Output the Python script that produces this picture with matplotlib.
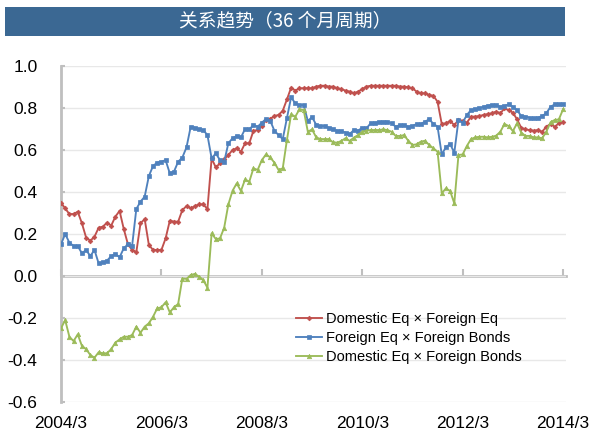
import matplotlib
matplotlib.use("Agg")
import matplotlib.pyplot as plt
from matplotlib.patches import Rectangle

# ---------------- data ----------------
title = "关系趋势（36 个月周期）"
series_names = ["Domestic Eq × Foreign Eq",
                "Foreign Eq × Foreign Bonds",
                "Domestic Eq × Foreign Bonds"]
tick_labels = ["2004/3", "2006/3", "2008/3", "2010/3", "2012/3", "2014/3"]
tick_months = [0, 24, 48, 72, 96, 120]   # months since 2004/3
y_ticks = [-0.6, -0.4, -0.2, 0.0, 0.2, 0.4, 0.6, 0.8, 1.0]

dom_eq_for_eq = [
    0.349, 0.322, 0.295, 0.295, 0.306, 0.251, 0.183, 0.168, 0.187, 0.230,
    0.235, 0.254, 0.240, 0.283, 0.310, 0.224, 0.151, 0.124, 0.113, 0.251,
    0.271, 0.148, 0.124, 0.124, 0.124, 0.179, 0.263, 0.259, 0.259, 0.314,
    0.333, 0.322, 0.333, 0.341, 0.341, 0.319, 0.560, 0.517, 0.537, 0.556,
    0.576, 0.600, 0.608, 0.592, 0.632, 0.632, 0.692, 0.695, 0.714, 0.743,
    0.748, 0.762, 0.767, 0.787, 0.841, 0.897, 0.883, 0.894, 0.894, 0.894,
    0.894, 0.902, 0.906, 0.906, 0.902, 0.902, 0.894, 0.890, 0.883, 0.878,
    0.870, 0.878, 0.890, 0.902, 0.906, 0.906, 0.906, 0.906, 0.906, 0.906,
    0.906, 0.902, 0.902, 0.898, 0.894, 0.878, 0.870, 0.870, 0.862, 0.858,
    0.830, 0.724, 0.727, 0.738, 0.719, 0.743, 0.740, 0.730, 0.759, 0.759,
    0.762, 0.767, 0.771, 0.775, 0.783, 0.775, 0.798, 0.790, 0.778, 0.746,
    0.706, 0.698, 0.695, 0.692, 0.695, 0.687, 0.711, 0.724, 0.711, 0.727,
    0.735]

for_eq_for_bonds = [
    0.151, 0.200, 0.159, 0.143, 0.143, 0.108, 0.124, 0.095, 0.124, 0.060,
    0.065, 0.073, 0.095, 0.105, 0.089, 0.132, 0.151, 0.144, 0.319, 0.354,
    0.378, 0.476, 0.524, 0.540, 0.544, 0.552, 0.489, 0.497, 0.544, 0.564,
    0.613, 0.711, 0.706, 0.698, 0.695, 0.671, 0.560, 0.584, 0.552, 0.544,
    0.632, 0.656, 0.667, 0.660, 0.700, 0.698, 0.719, 0.711, 0.730, 0.748,
    0.740, 0.692, 0.671, 0.652, 0.752, 0.851, 0.822, 0.814, 0.814, 0.738,
    0.757, 0.720, 0.714, 0.714, 0.706, 0.700, 0.692, 0.690, 0.683, 0.676,
    0.695, 0.692, 0.706, 0.703, 0.727, 0.730, 0.732, 0.735, 0.735, 0.727,
    0.711, 0.719, 0.719, 0.711, 0.714, 0.724, 0.724, 0.735, 0.746, 0.725,
    0.711, 0.579, 0.613, 0.629, 0.587, 0.743, 0.730, 0.767, 0.790, 0.795,
    0.798, 0.806, 0.811, 0.814, 0.814, 0.806, 0.810, 0.817, 0.806, 0.790,
    0.762, 0.759, 0.754, 0.751, 0.754, 0.762, 0.775, 0.806, 0.817, 0.819,
    0.819]

dom_eq_for_bonds = [
    -0.249, -0.210, -0.289, -0.310, -0.278, -0.333, -0.348, -0.376, -0.389, -0.363,
    -0.368, -0.368, -0.348, -0.317, -0.302, -0.289, -0.289, -0.281, -0.241, -0.270,
    -0.241, -0.225, -0.194, -0.154, -0.149, -0.125, -0.173, -0.149, -0.133, -0.012,
    -0.014, 0.005, 0.010, -0.003, -0.019, -0.056, 0.203, 0.176, 0.179, 0.230,
    0.341, 0.406, 0.441, 0.405, 0.460, 0.449, 0.513, 0.505, 0.552, 0.579,
    0.565, 0.540, 0.505, 0.513, 0.648, 0.770, 0.759, 0.794, 0.790, 0.687,
    0.698, 0.660, 0.652, 0.652, 0.652, 0.637, 0.635, 0.643, 0.656, 0.643,
    0.659, 0.671, 0.687, 0.692, 0.695, 0.695, 0.695, 0.698, 0.695, 0.687,
    0.667, 0.667, 0.671, 0.644, 0.624, 0.627, 0.640, 0.644, 0.624, 0.608,
    0.592, 0.394, 0.417, 0.405, 0.346, 0.576, 0.579, 0.619, 0.652, 0.660,
    0.663, 0.663, 0.660, 0.663, 0.668, 0.687, 0.724, 0.714, 0.690, 0.727,
    0.683, 0.667, 0.667, 0.660, 0.660, 0.656, 0.687, 0.732, 0.743, 0.746,
    0.794]

months = list(range(len(dom_eq_for_eq)))

# ---------------- figure ----------------
W, H = 592, 433
fig = plt.figure(figsize=(W / 100, H / 100), dpi=100)
fig.patch.set_facecolor("white")

# title bar
bar_l, bar_r, bar_t, bar_b = 5, 565, 7, 36
fig.patches.append(Rectangle((bar_l / W, 1 - bar_b / H), (bar_r - bar_l) / W,
                             (bar_b - bar_t) / H, transform=fig.transFigure,
                             facecolor="#3B6893", edgecolor="none"))
fig.text((bar_l + bar_r) / 2 / W, 1 - (bar_t + bar_b) / 2 / H, title,
         ha="center", va="center", color="white", fontsize=13.5,
         family=["Noto Sans CJK SC", "DejaVu Sans"])

# axes
ax_l, ax_r, ax_t, ax_b = 61, 566, 66, 402
ax = fig.add_axes([ax_l / W, 1 - ax_b / H, (ax_r - ax_l) / W, (ax_b - ax_t) / H])
ax.set_facecolor("white")

colors = ["#C0504D", "#4F81BD", "#9BBB59"]
markers = ["D", "s", "^"]
msizes = [2.4, 3.0, 3.2]
for vals, name, c, m, ms in zip([dom_eq_for_eq, for_eq_for_bonds, dom_eq_for_bonds],
                                series_names, colors, markers, msizes):
    ax.plot(months, vals, color=c, lw=1.35, marker=m, markersize=ms,
            markeredgewidth=0.5, markeredgecolor=c, label=name, zorder=3)

ax.set_ylim(-0.6, 1.0)
ax.set_xlim(0, 120.7)
ax.set_yticks(y_ticks)
ax.set_yticklabels([f"{v:.1f}" for v in y_ticks])
ax.set_xticks(tick_months)
ax.set_xticklabels(tick_labels)

ax.yaxis.grid(True, color="#E8E8E8", lw=1.0)
ax.set_axisbelow(True)

for s in ["top", "right", "bottom"]:
    ax.spines[s].set_visible(False)
ax.spines["left"].set_color("#BFBFBF")
ax.spines["left"].set_linewidth(2.0)

ax.tick_params(axis="y", direction="in", length=3, width=1.5, color="#BFBFBF",
               pad=17, labelsize=12.5, labelcolor="black")
ax.tick_params(axis="x", length=0, pad=10, labelsize=12.5, labelcolor="black")
for lab in ax.get_xticklabels() + ax.get_yticklabels():
    lab.set_family(["Liberation Sans", "DejaVu Sans"])

# zero-line axis with ticks
sec = ax.secondary_xaxis(0.375)
sec.set_xticks(tick_months)
sec.tick_params(axis="x", direction="in", length=5, width=1.5, color="#BFBFBF",
                labelbottom=False)
sec.spines["bottom"].set_color("#BFBFBF")
sec.spines["bottom"].set_linewidth(2.0)

leg = ax.legend(loc="upper left", bbox_to_anchor=(296 / W, 1 - 312 / H),
                bbox_transform=fig.transFigure, frameon=False,
                prop=dict(family=["Liberation Sans", "DejaVu Sans"], size=10.5),
                handlelength=1.75, handletextpad=0.3, labelspacing=0.34,
                borderpad=0, borderaxespad=0)

fig.savefig("out.png", dpi=100)
